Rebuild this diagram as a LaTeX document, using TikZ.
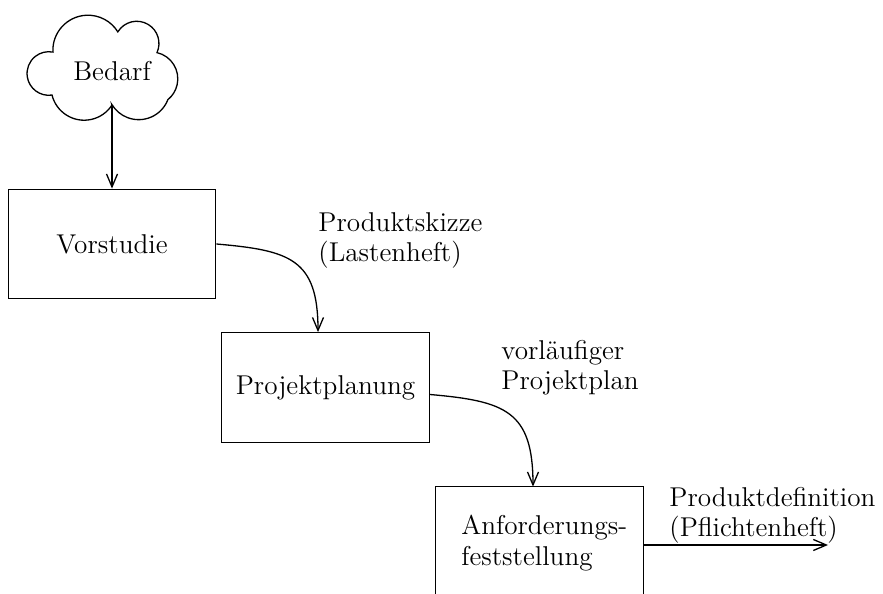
\documentclass[tikz,border=0pt]{standalone}
\usepackage{fontspec}
\usetikzlibrary{arrows.meta,calc}
\begin{document}
\begin{tikzpicture}[x=0.5pt,y=0.5pt,
  every node/.style={font=\fontsize{13.6}{15}\selectfont},
  box/.style={draw, line width=0.65pt, minimum width=103.75pt, minimum height=54.75pt, inner sep=0pt},
  lineStyle/.style={line width=0.65pt},
  conn/.style={line width=0.65pt, -{Straight Barb[length=6.5pt,width=5.5pt]}},
  lbl/.style={align=left, anchor=west, inner sep=0pt}]
\useasboundingbox (0,0) rectangle (883,594);
% cloud
\coordinate (cE) at (112,489);
\draw[lineStyle] (cE)
  arc[start angle=-32.7, delta angle=-133.4, radius=33.1]
  arc[start angle=-81.6, delta angle=-199.2, radius=21.8]
  arc[start angle=182.9, delta angle=-151.2, radius=35.1]
  arc[start angle=148.5, delta angle=-172.8, radius=22.2]
  arc[start angle=76.9, delta angle=-127.8, radius=26.9]
  arc[start angle=-21.2, delta angle=-127.8, radius=31.3] -- cycle;
\node (bedarf) at (112,523) {Bedarf};
% boxes
\node[box] (vor) at (112,350) {Vorstudie};
\node[box] (proj) at (325.5,206.5) {Projektplanung};
\node[minimum width=103.75pt, minimum height=58pt, inner sep=0pt] (anf) at (539.5,49) {};
\draw[lineStyle] (anf.south west) -- (anf.north west) -- (anf.north east) -- (anf.south east);
\node[lbl, font=\fontsize{13.6}{15.5}\selectfont] (anfT) at (461,51) {Anforderungs-\\feststellung};
% connectors
\draw[conn] (cE) -- (vor.north);
\draw[conn] (vor.east) to[out=-5,in=90,looseness=1.4] ($(proj.north)+(-7.5,0)$);
\draw[conn] ($(proj.east)+(0,-7)$) to[out=-5,in=90,looseness=1.4] ($(anf.north)+(-6.5,0)$);
\coordinate (outEnd) at (828,49);
\draw[conn] (anf.east) -- (outEnd);
% labels
\node[lbl] (l1) at (318,353.5) {Produktskizze\\(Lastenheft)};
\node[lbl] (l2) at (501,226.5) {vorläufiger\\Projektplan};
\node[lbl] (l3) at (669,79) {Produktdefinition\\(Pflichtenheft)};
\end{tikzpicture}
\end{document}
